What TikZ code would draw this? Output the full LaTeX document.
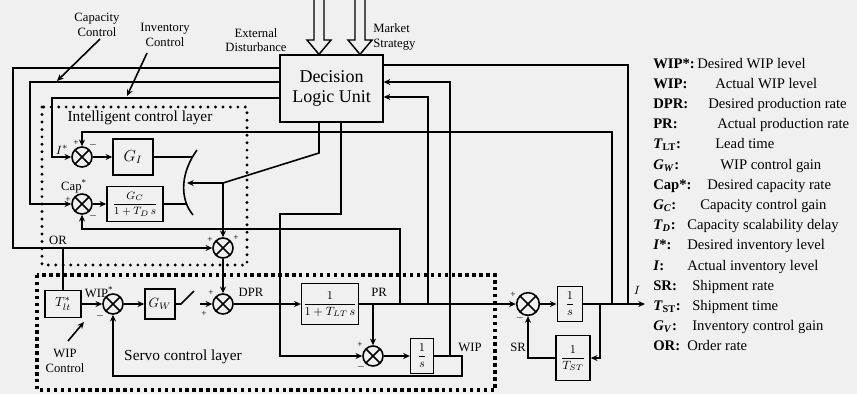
\documentclass[tikz,border=0pt]{standalone}
\usepackage{fontspec}
\setmainfont{Liberation Serif}
\usetikzlibrary{arrows.meta}
\begin{document}
\begin{tikzpicture}[x=0.75pt,y=-0.75pt,
  ln/.style={line width=1.2pt},
  arr/.style={line width=1.2pt,-{Stealth[length=5pt,width=4.5pt]}},
  blk/.style={draw,line width=1.2pt,inner sep=1pt,align=center},
  sumj/.style={circle,draw,line width=1.2pt,minimum size=15pt,inner sep=0pt,
     path picture={\draw[line width=1.1pt] (path picture bounding box.north west)--(path picture bounding box.south east) (path picture bounding box.north east)--(path picture bounding box.south west);}},
  lbl/.style={font=\fontsize{9.5}{11}\selectfont,inner sep=0pt,align=center},
  sgn/.style={font=\fontsize{7}{7}\selectfont,inner sep=0pt},
  lgk/.style={font=\fontsize{11}{12}\selectfont\bfseries,anchor=base west,inner sep=0pt},
  lgd/.style={font=\fontsize{11}{12}\selectfont,anchor=base west,inner sep=0pt},
  ilayer/.style={line width=2.4pt,line cap=round,dash pattern=on 0pt off 5.6pt},
  slayer/.style={line width=2.3pt,dash pattern=on 2.6pt off 2.6pt},
  hollow/.style={line width=1.1pt,line join=miter}
]
\fill[black!6] (0,0) rectangle (857,394);
\useasboundingbox (0,0) rectangle (857,394);

% layers
\draw[ilayer] (42,107) rectangle (247,265);
\draw[slayer] (37,275) rectangle (495,390);
\node[font=\fontsize{11.5}{13}\selectfont,inner sep=0pt] (ltop) at (140,118) {Intelligent control layer};
\node[font=\fontsize{11.5}{13}\selectfont,inner sep=0pt] (lbot) at (183,357) {Servo control layer};

% decision logic unit
\node[blk,minimum width=77pt,minimum height=50pt,font=\fontsize{13.5}{15}\selectfont] (dlu) at (331.5,88.5) {Decision\\Logic Unit};
\draw[hollow] (314,0) -- (314,40) -- (307,40) -- (319,0 |- dlu.north) -- (331,40) -- (324,40) -- (324,0);
\draw[hollow] (355,0) -- (355,40) -- (348,40) -- (360,0 |- dlu.north) -- (372,40) -- (365,40) -- (365,0);
\node[lbl] (ext) at (256,40) {External\\Disturbance};
\node[lbl,align=left,anchor=west] (mkt) at (373,37) {Market\\Strategy};
\node[lbl] (capc) at (97,25) {Capacity\\Control};
\node[lbl] (invc) at (165,35) {Inventory\\Control};
\node[lbl] (wipc) at (65,361) {WIP\\Control};
\coordinate (capA) at (100,39);
\coordinate (capB) at (57,81);
\coordinate (invA) at (147,53);
\coordinate (invB) at (127,96);
\coordinate (wipA) at (68,341);
\coordinate (wipB) at (84,322);
\draw[arr] (capA) -- (capB);
\draw[arr] (invA) -- (invB);
\draw[arr] (wipA) -- (wipB);

% intelligent control layer
\node[sumj] (si) at (82,157) {};
\node[blk,minimum width=30pt,minimum height=27pt,font=\large] (gi) at (133,157) {$G_I$};
\node[sumj] (sc) at (82,204) {};
\node[blk,minimum width=42pt,minimum height=26pt,font=\fontsize{8}{9}\selectfont] (gc) at (135,204) {$\displaystyle\frac{G_C}{1+T_D\,s}$};
\node[sumj] (s3) at (223,248) {};
\coordinate (swA) at (192.5,157);
\coordinate (swB) at (186.5,204);
\coordinate (swC) at (187,183);
\coordinate (jn1) at (223,183);
\draw[ln] (197,150) .. controls (181,172) and (179,198) .. (193,215);
\draw[arr] (si) -- (gi);
\draw[arr] (sc) -- (gc);
\draw[ln] (gi.east) -- (swA);
\draw[ln] (gc.east) -- (swB);
\draw[ln] (319,0 |- dlu.south) -- (319,153) -- (jn1);
\draw[arr] (jn1) -- (swC);
\draw[arr] (jn1) -- (s3.north);

% DLU left outputs
\draw[arr] (dlu.west |- 0,68) -- (13,68) -- (13,248) -- (s3.west);
\draw[arr] (dlu.west |- 0,82) -- (30,82) -- (30,204) -- (sc.west);
\draw[arr] (dlu.west |- 0,98) -- (52,98) -- (52,157) -- (si.west);

% servo layer
\node[blk,minimum width=27pt,minimum height=20pt] (tlt) at (63,304) {$T^{*}_{lt}$};
\node[sumj] (sw) at (113,304) {};
\node[blk,minimum width=22.5pt,minimum height=22.5pt] (gw) at (160,304) {$G_W$};
\node[sumj] (s4) at (223,304) {};
\node[blk,minimum width=41pt,minimum height=31pt,font=\fontsize{9}{10}\selectfont] (plt) at (330,304) {$\displaystyle\frac{1}{1+T_{LT}\,s}$};
\node[sumj,minimum size=17pt] (s6) at (528,304) {};
\node[blk,minimum width=19pt,minimum height=26pt,font=\fontsize{9}{10}\selectfont] (int1) at (570,304) {$\displaystyle\frac{1}{s}$};
\node[blk,minimum width=25.5pt,minimum height=34pt,font=\fontsize{9}{10}\selectfont] (tst) at (573,358) {$\displaystyle\frac{1}{T_{ST}}$};
\node[sumj] (s5) at (373,356) {};
\node[blk,minimum width=17pt,minimum height=26pt,font=\fontsize{9}{10}\selectfont] (int2) at (422,356) {$\displaystyle\frac{1}{s}$};

\coordinate (jOR) at (63,248);
\coordinate (swD) at (200,304);
\coordinate (j373) at (373,304);
\coordinate (j400) at (400,304);
\coordinate (j428) at (428,304);
\coordinate (j450) at (450,356);
\coordinate (j600) at (600,304);
\coordinate (j612) at (612,304);
\coordinate (j628) at (628,304);
\coordinate (out) at (645,304);

\draw[ln] (jOR) -- (tlt.north);
\draw[arr] (tlt) -- (sw);
\draw[arr] (sw) -- (gw);
\draw[ln] (gw.east) -- (181,304) -- (194,291);
\draw[arr] (swD) -- (s4.west);
\draw[arr] (s3) -- (s4);
\draw[arr] (s4) -- (plt);
\draw[arr] (plt) -- (s6);
\draw[arr] (s6) -- (int1);
\draw[arr] (int1) -- (out);
\draw[arr] (j600) -- (600,358) -- (tst.east);
\draw[arr] (tst.west) -- (528,358) -- (s6.south);
\draw[ln] (j628) -- (628,65) -- (dlu.east |- 0,65);
\draw[arr] (j612) -- (612,132) -- (82,132) -- (si.north);
\draw[arr] (j400) -- (400,229) -- (82,229) -- (sc.south);
\draw[arr] (j428) -- (428,97) -- (dlu.east |- 0,97);
\draw[arr] (j450) -- (450,82) -- (dlu.east |- 0,82);
\draw[arr] (j373) -- (s5.north);
\draw[arr] (341,0 |- dlu.south) -- (341,214) -- (280,214) -- (280,356) -- (s5.west);
\draw[arr] (s5) -- (int2);
\draw[arr] (int2.east) -- (462,356) -- (462,376) -- (113,376) -- (sw.south);

% signal labels
\node[lbl] (tI) at (62,150) {$I^{*}$};
\node[lbl] (tCap) at (74,186) {Cap\textsuperscript{*}};
\node[lbl] (tOR) at (58,240) {OR};
\node[lbl] (tWIPs) at (99,292) {WIP\textsuperscript{*}};
\node[lbl] (tDPR) at (251,292) {DPR};
\node[lbl] (tPR) at (379,292) {PR};
\node[lbl] (tWIP) at (470,347) {WIP};
\node[lbl] (tSR) at (518,347) {SR};
\node[lbl] (tOut) at (637,290) {$I$};

% signs
\node[sgn] (p1) at (76,143) {+};
\node[sgn] (m1) at (93,145) {$-$};
\node[sgn] (p2) at (68,200) {+};
\node[sgn] (m2) at (93,216) {$-$};
\node[sgn] (p3) at (210,240) {+};
\node[sgn] (p4) at (236,238) {+};
\node[sgn] (m3) at (100,316) {$-$};
\node[sgn] (p5) at (211,293) {+};
\node[sgn] (p6) at (204,314) {+};
\node[sgn] (p7) at (360,345) {+};
\node[sgn] (m4) at (361,367) {$-$};
\node[sgn] (p8) at (513,295) {+};
\node[sgn] (m5) at (520,318) {$-$};

% legend
\foreach \k/\d/\x [count=\i from 0] in {
 {WIP*:}/{Desired WIP level}/697,
 {WIP:}/{Actual WIP level}/715,
 {DPR:}/{Desired production rate}/708,
 {PR:}/{Actual production rate}/717,
 {\textit{T}\textsubscript{LT}:}/{Lead time}/715,
 {\textit{G}\textsubscript{\textit{W}}:}/{WIP control gain}/720,
 {Cap*:}/{Desired capacity rate}/707,
 {\textit{G}\textsubscript{\textit{C}}:}/{Capacity control gain}/700,
 {\textit{T}\textsubscript{\textit{D}}:}/{Capacity scalability delay}/687,
 {\textit{I}*:}/{Desired inventory level}/687,
 {\textit{I}:}/{Actual inventory level}/687,
 {SR:}/{Shipment rate}/692,
 {\textit{T}\textsubscript{ST}:}/{Shipment time}/692,
 {\textit{G}\textsubscript{\textit{V}}:}/{Inventory control gain}/692,
 {OR:}/{Order rate}/687}
{
 \pgfmathsetmacro{\yy}{68+20.2*\i}
 \node[lgk] (lk\i) at (653,\yy) {\k};
 \node[lgd] (ld\i) at (\x,\yy) {\d};
}
\end{tikzpicture}
\end{document}
